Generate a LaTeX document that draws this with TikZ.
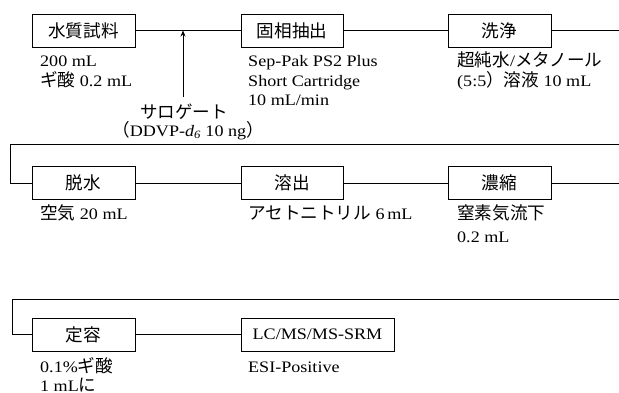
\documentclass[tikz,border=0pt]{standalone}
\usepackage{fontspec}
\setmainfont{Liberation Serif}[FakeStretch=1.13]
\newfontfamily\jp{Noto Sans CJK JP}[Scale=1.1]
\usetikzlibrary{arrows.meta}
\tikzset{
  stage/.style={draw, line width=0.8pt, minimum height=33pt, inner sep=0pt,
                font=\fontsize{16}{18}\selectfont},
  note/.style={anchor=base west, inner sep=0pt, font=\fontsize{16}{18}\selectfont},
  flow/.style={line width=0.8pt},
}
\begin{document}
\begin{tikzpicture}[x=1pt,y=-1pt]
\useasboundingbox (0,0) rectangle (619,392);

% row 1
\node[stage, minimum width=103pt] (b1) at (83.5,30.5) {\jp 水質試料};
\node[stage, minimum width=102pt] (b2) at (292,30.5) {\jp 固相抽出};
\node[stage, minimum width=103pt] (b3) at (499.5,30.5) {\jp 洗浄};
\coordinate (e1) at (619,30.5);
\draw[flow] (b1.east) -- (b2.west);
\draw[flow] (b2.east) -- (b3.west);
\draw[flow] (b3.east) -- (e1);

\coordinate (s0) at (183,97);
\draw[flow, -{Stealth[length=6pt,width=5pt]}] (s0) -- (s0 |- b1.east);

\node[note] (t1) at (40,66) {200 mL};
\node[note] (t2) at (40,86) {{\jp ギ酸} 0.2 mL};
\node[note] (t3) at (248,66) {Sep-Pak PS2 Plus};
\node[note] (t4) at (248,86) {Short Cartridge};
\node[note] (t5) at (248,105) {10 mL/min};
\node[note] (t6) at (457,66) {{\jp 超純水}/{\jp メタノール}};
\node[note] (t7) at (457,86) {(5:5{\jp ）溶液} 10 mL};
\node[note, anchor=base] (t8) at (184,118) {\jp サロゲート};
\node[note, anchor=base] (t9) at (188,136) {{\jp （}DDVP-{\itshape d}\textsubscript{\itshape 6} 10 ng{\jp ）}};

% row 2
\coordinate (s1) at (619,144);
\coordinate (k1) at (10,144);
\node[stage, minimum width=103pt] (b4) at (83.5,183) {\jp 脱水};
\node[stage, minimum width=102pt] (b5) at (292,183) {\jp 溶出};
\node[stage, minimum width=103pt] (b6) at (499.5,183) {\jp 濃縮};
\coordinate (e2) at (619,183);
\draw[flow] (s1) -- (k1) |- (b4.west);
\draw[flow] (b4.east) -- (b5.west);
\draw[flow] (b5.east) -- (b6.west);
\draw[flow] (b6.east) -- (e2);

\node[note] (t10) at (40,219) {{\jp 空気} 20 mL};
\node[note] (t11) at (248,219) {{\jp アセトニトリル} 6\,mL};
\node[note] (t12) at (457,219) {\jp 窒素気流下};
\node[note] (t13) at (457,242) {0.2 mL};

% row 3
\coordinate (s2) at (619,299);
\coordinate (k2) at (12,299);
\node[stage, minimum width=103pt] (b7) at (83.5,334.5) {\jp 定容};
\node[stage, minimum width=153pt] (b8) at (317.5,334.5) {LC/MS/MS-SRM};
\draw[flow] (s2) -- (k2) |- (b7.west);
\draw[flow] (b7.east) -- (b8.west);

\node[note] (t14) at (40,372) {0.1\%{\jp ギ酸}};
\node[note] (t15) at (40,391) {1 mL{\jp に}};
\node[note] (t16) at (248,372) {ESI-Positive};
\end{tikzpicture}
\end{document}
